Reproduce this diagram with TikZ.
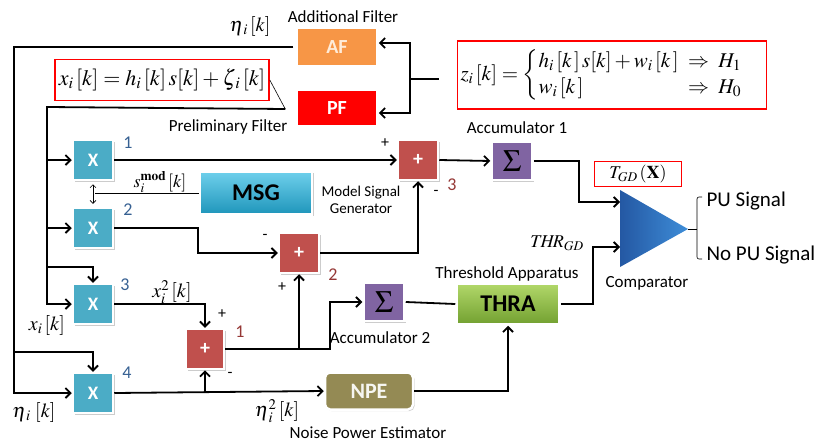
\documentclass[tikz,border=0pt]{standalone}
\usepackage{amsmath}
\usepackage{mathptmx}
\usepackage{fontspec}
\setmainfont{Carlito}
\usetikzlibrary{arrows.meta,shadows}

\definecolor{afc}{HTML}{F79646}
\definecolor{pfc}{HTML}{FF0000}
\definecolor{xc}{HTML}{4BACC6}
\definecolor{sumc}{HTML}{C0504D}
\definecolor{sigc}{HTML}{8064A2}
\definecolor{npec}{HTML}{948A54}
\definecolor{numblue}{HTML}{366092}
\definecolor{numred}{HTML}{953735}
\definecolor{msgtop}{HTML}{6FD0EC}
\definecolor{msgbot}{HTML}{1E95BA}
\definecolor{thratop}{HTML}{B2D86A}
\definecolor{thrabot}{HTML}{72A030}
\definecolor{cmpdark}{HTML}{2458A3}
\definecolor{cmplight}{HTML}{3E8DD8}

\tikzset{
  blk/.style={draw=white, line width=2.5pt, inner sep=0pt,
    drop shadow={shadow xshift=1.5pt, shadow yshift=-1.5pt, fill=black!40, opacity=.5}},
  xbox/.style={blk, fill=xc, minimum width=40pt, minimum height=40pt,
    text=white, font=\bfseries\fontsize{19}{19}\selectfont},
  sumbox/.style={blk, fill=sumc, minimum width=40pt, minimum height=40pt,
    text=white, font=\bfseries\fontsize{20}{20}\selectfont},
  sigbox/.style={blk, fill=sigc, minimum width=41pt, minimum height=38pt,
    font=\fontsize{31}{31}\selectfont},
  lbl/.style={font=\fontsize{17}{17}\selectfont},
  num/.style={font=\fontsize{18}{18}\selectfont, text=numblue},
  snum/.style={font=\fontsize{18}{18}\selectfont, text=numred},
  sgn/.style={font=\fontsize{16}{16}\selectfont},
  mth/.style={font=\fontsize{20}{20}\selectfont, inner sep=1pt},
  wire/.style={line width=1.8pt},
  arr/.style={wire, -{Straight Barb[length=5pt,width=10pt,line width=1.8pt]}},
  redbox/.style={draw=red, line width=1.6pt, fill=white, inner sep=2pt},
}

\begin{document}
\begin{tikzpicture}[x=1pt,y=-1pt]
\useasboundingbox (0,0) rectangle (837,444);

% filters
\node[blk, fill=afc, minimum width=81pt, minimum height=39pt, text=orange!15,
  font=\bfseries\fontsize{20}{20}\selectfont] (af) at (337,47) {AF};
\node[blk, fill=pfc, minimum width=81pt, minimum height=37pt, text=white,
  font=\bfseries\fontsize{20}{20}\selectfont] (pf) at (337,108) {PF};
\node[lbl] (afl) at (343,17) {Additional Filter};
\node[lbl] (pfl) at (228,127) {Preliminary Filter};

% equations
\node[redbox, font=\fontsize{22}{22}\selectfont, minimum width=214pt, minimum height=41pt] (eq) at (162,80)
  {$x_i\,[k] = h_i\,[k]\,s[k] + \zeta_{\,i}\,[k]$};
\node[redbox, font=\fontsize{21}{23}\selectfont, minimum width=309pt, minimum height=68pt] (zb) at (612,75)
  {$z_i\,[k] = \begin{cases} h_i\,[k\,]\,s[k] + w_i\,[k\,]\;\Rightarrow\; H_1\\[-1pt] w_i\,[k\,] \hfill \Rightarrow\; H_0\end{cases}$};

% multipliers
\node[xbox] (x1) at (93,160) {X};
\node[xbox] (x2) at (93,228) {X};
\node[xbox] (x3) at (93,304) {X};
\node[xbox] (x4) at (93,393) {X};
\node[num] (n1) at (128,143) {1};
\node[num] (n2) at (128,210) {2};
\node[num] (n3) at (125,285) {3};
\node[num] (n4) at (127,373) {4};

% model signal generator
\node[blk, top color=msgtop, bottom color=msgbot,
  minimum width=112pt, minimum height=43pt,
  font=\bfseries\fontsize{24}{24}\selectfont] (msg) at (256,193) {MSG};
\node[font=\fontsize{15}{17}\selectfont, align=center] (msgl) at (361,200) {Model Signal\\Generator};

% adders
\node[sumbox] (s3) at (418,160) {+};
\node[sumbox] (s2) at (299,253) {+};
\node[sumbox, minimum width=38pt] (s1) at (205,349) {+};
\node[snum] (sn3) at (452,185) {3};
\node[snum] (sn2) at (333,275) {2};
\node[snum] (sn1) at (240,332) {1};
\node[sgn] (p3) at (385,143) {+};
\node[sgn] (m3) at (436,193) {-};
\node[sgn] (m2) at (265,237) {-};
\node[sgn] (p2) at (282,287) {+};
\node[sgn] (p1) at (222,314) {+};
\node[sgn] (m1) at (230,375) {-};

% accumulators
\node[sigbox] (sig1) at (512,161) {$\Sigma$};
\node[sigbox] (sig2) at (384,302) {$\Sigma$};
\node[lbl] (sig1l) at (517,128) {Accumulator 1};
\node[lbl] (sig2l) at (380,338) {Accumulator 2};

% threshold apparatus and noise power estimator
\node[blk, top color=thratop, bottom color=thrabot,
  minimum width=103pt, minimum height=41pt,
  font=\bfseries\fontsize{24}{24}\selectfont] (thra) at (508,304) {THRA};
\node[lbl] (thral) at (507,274) {Threshold Apparatus};
\node[blk, fill=npec, rounded corners=5pt, minimum width=88pt, minimum height=37pt,
  text=white!92!npec, font=\bfseries\fontsize{22}{22}\selectfont] (npe) at (369,391) {NPE};
\node[lbl] (npel) at (368,433) {Noise Power Estimator};

% comparator
\coordinate (cA) at (620,190);
\coordinate (cB) at (620,267);
\coordinate (cC) at (688,229);
\coordinate (cin1) at (620,202);
\coordinate (cin2) at (620,247);
\shade[left color=cmpdark, right color=cmplight] (cA) -- (cB) -- (cC) -- cycle;
\node[lbl] (cmpl) at (647,283) {Comparator};
\node[redbox, font=\fontsize{18}{18}\selectfont, minimum width=87pt, minimum height=25pt] (tgd) at (638,174) {$T_{GD}\,(\mathbf{X})$};
\node[mth, font=\fontsize{18}{18}\selectfont] (thrgd) at (557,243) {$T\!H\!R_{GD}$};

% decision bracket
\draw[line width=0.6pt] (cC) -- (697,229);
\draw[line width=0.6pt, rounded corners=2pt] (702,197) -- (697,197) -- (697,259) -- (702,259);
\node[font=\fontsize{21}{21}\selectfont, anchor=west] (pu) at (703,201) {PU Signal};
\node[font=\fontsize{21}{21}\selectfont, anchor=west] (npu) at (703,255) {No PU Signal};

% signal labels
\node[mth] (etal) at (250,27) {$\eta_{\,i}\,[k]$};
\node[mth] (xil) at (47,325) {$x_i\,[k]$};
\node[mth] (x2l) at (172,292) {$x_i^2\,[k]$};
\node[mth] (etal2) at (34,412) {$\eta_{\,i}\;[k]$};
\node[mth] (eta2l) at (277,411) {$\eta_{\,i}^2\,[k]$};
\node[mth, font=\fontsize{18}{18}\selectfont] (smod) at (160,182) {$s_i^{\mathbf{mod}}\,[k]$};

% input distribution
\coordinate (zj) at (410,79);
\draw[wire] (zj) -- ([xshift=-18pt]zb.west |- zj);
\draw[arr] (zj) |- ([yshift=4pt]af.east);
\draw[arr] (zj) |- ([yshift=-5pt]pf.east);

\draw[line width=0.6pt] (eq.east) -- ([xshift=-10pt,yshift=-1pt]pf.west);

\coordinate (etaL) at (14,47);
\coordinate (etab) at (14,352);
\draw[arr] ([xshift=-2pt]af.west) -- (etaL) |- (x4.west);
\draw[arr] (etab) -| (x4.north);

\coordinate (xL) at (47,107);
\coordinate (xb) at (47,267);
\draw[arr] ([xshift=-10pt,yshift=-1pt]pf.west) -- (xL) |- (x3.west);
\draw[arr] (xL) |- (x1.west);
\draw[arr] (xL) |- (x2.west);
\draw[arr] (xb) -| (x3.north);

% model signal feed
\draw[line width=0.6pt] (msg.west) -- (95,193) coordinate (mj);
\draw[line width=0.6pt, {Straight Barb[length=3pt,width=6pt]}-{Straight Barb[length=3pt,width=6pt]}] ([yshift=-3pt]x1.south) -- ([yshift=3pt]x2.north);

% adder network
\draw[arr] (x1.east) -- (s3.west);
\draw[arr] (x2.east) -- ++(84,0) |- (s2.west);
\draw[arr] (s2.east) -| (s3.south);
\draw[arr] (s3.east) -- (sig1.west);
\draw[arr] (sig1.east) -- ++(45,0) |- (cin1);

\draw[arr] (x3.east) -| (s1.north);
\coordinate (eb) at (205,393);
\draw[arr] (x4.east) -- (npe.west);
\draw[arr] (eb) -- (s1.south);
\coordinate (j1) at (299,349);
\draw[arr] (s1.east) -| (s2.south);
\draw[arr] (j1) -- ++(31,0) |- (sig2.west);
\draw[wire] (sig2.east) -- (thra.west);
\draw[arr] (npe.east) -| (thra.south);
\draw[arr] (thra.east) -- ++(32,0) |- (cin2);

\end{tikzpicture}
\end{document}
